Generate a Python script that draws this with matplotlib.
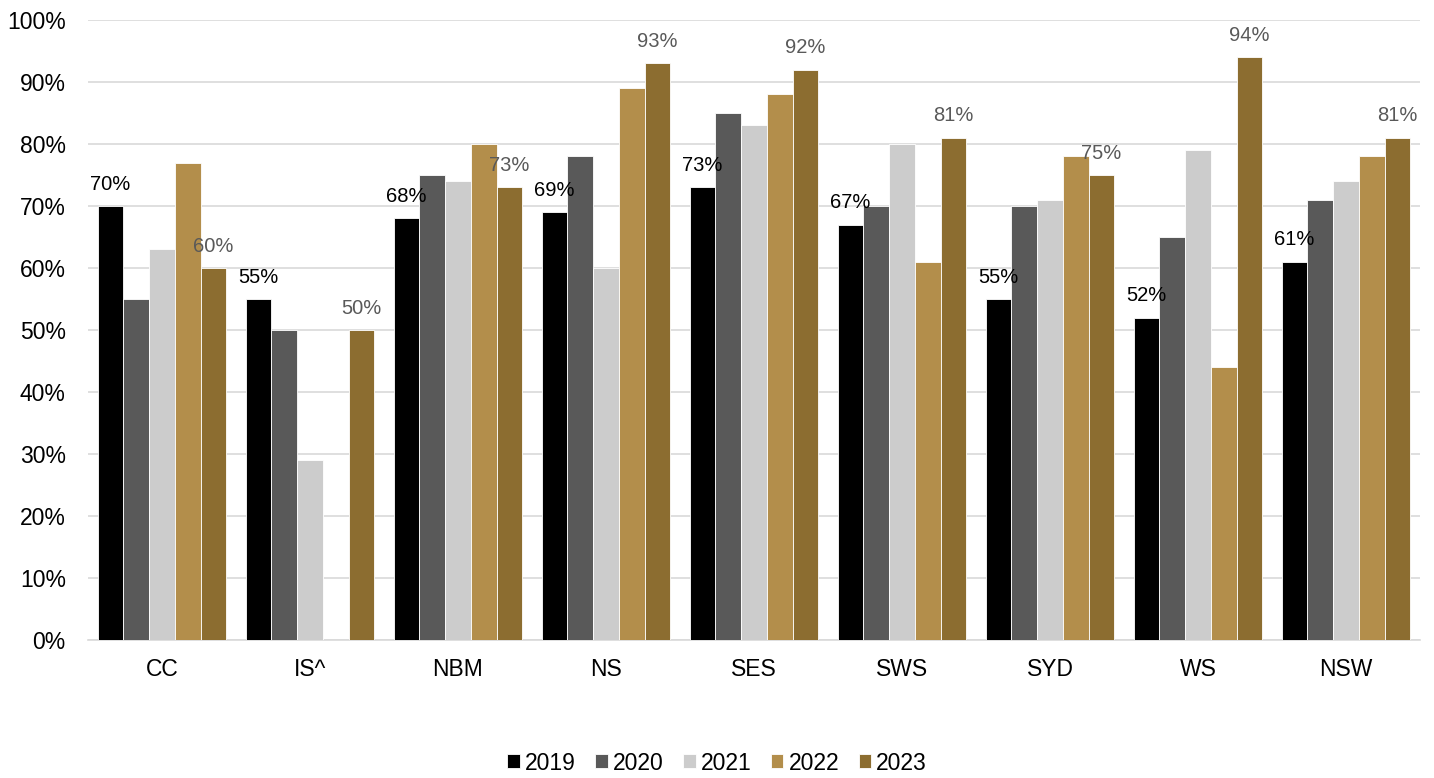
import matplotlib.pyplot as plt
import numpy as np

plt.rcParams['font.family'] = ['Liberation Sans', 'DejaVu Sans']

regions = ['CC', 'IS^', 'NBM', 'NS', 'SES', 'SWS', 'SYD', 'WS', 'NSW']
years = ['2019', '2020', '2021', '2022', '2023']
v2019 = [70, 55, 68, 69, 73, 67, 55, 52, 61]
v2020 = [55, 50, 75, 78, 85, 70, 70, 65, 71]
v2021 = [63, 29, 74, 60, 83, 80, 71, 79, 74]
v2022 = [77, np.nan, 80, 89, 88, 61, 78, 44, 78]
v2023 = [60, 50, 73, 93, 92, 81, 75, 94, 81]

series = [v2019, v2020, v2021, v2022, v2023]
colors = ['#000000', '#595959', '#cccccc', '#b38e4b', '#8c6d30']

fig = plt.figure(figsize=(14.34, 7.78), dpi=100)
ax = fig.add_axes([88 / 1434, 138 / 778, 1332 / 1434, 620 / 778])

x = np.arange(len(regions))
w = 0.174
for i, (vals, c) in enumerate(zip(series, colors)):
    pos = x + (i - 2) * w
    ax.bar(pos, vals, width=w, color=c, edgecolor='white', linewidth=0.6,
           label=years[i], zorder=3)
    if i in (0, 4):
        lc = '#000000' if i == 0 else '#595959'
        for p, v in zip(pos, vals):
            ax.text(p, v + 2.0, f'{v}%', ha='center', va='bottom', fontsize=14.5,
                    color=lc, zorder=4)

ax.set_xlim(-0.5, len(regions) - 0.5)
ax.set_ylim(0, 100)
ax.set_yticks(np.arange(0, 101, 10))
ax.set_yticklabels([f'{t}%' for t in range(0, 101, 10)], fontsize=16.5)
ax.set_xticks(x)
ax.set_xticklabels(regions, fontsize=16.5)
ax.tick_params(axis='both', length=0)
ax.tick_params(axis='x', pad=13)
ax.tick_params(axis='y', pad=16)
ax.yaxis.grid(True, color='#d9d9d9', linewidth=1.2, zorder=0)
for s in ['top', 'right', 'left']:
    ax.spines[s].set_visible(False)
ax.spines['bottom'].set_color('#d9d9d9')
ax.spines['bottom'].set_linewidth(1.2)

fig.legend(loc='center', bbox_to_anchor=(0.5, 1 - 763 / 778), ncol=5, frameon=False,
           fontsize=16.5, handlelength=0.55, handleheight=0.55, handletextpad=0.22,
           columnspacing=0.85)

fig.savefig('out.png', dpi=100)
